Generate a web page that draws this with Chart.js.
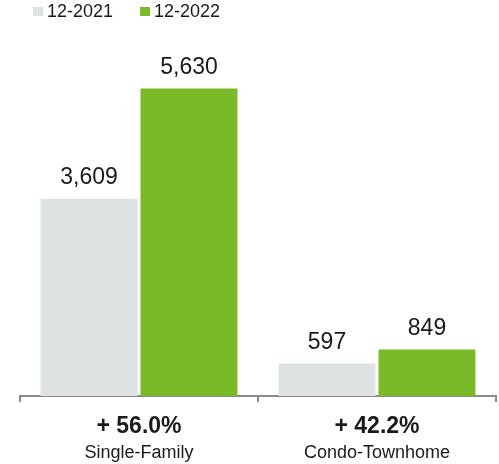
<!DOCTYPE html>
<html lang="en">
<head>
    <meta charset="UTF-8">
    <title>Closed Sales</title>
    <script src="https://cdn.jsdelivr.net/npm/chart.js"></script>
    <style>
        body {
            margin: 0;
            background: #ffffff;
        }
    </style>
</head>
<body>
    <canvas id="salesChart" width="499" height="464"></canvas>

<script>
    // data
    const categories = ["Single-Family", "Condo-Townhome"];
    const changeLabels = ["+ 56.0%", "+ 42.2%"];
    const periods = ["12-2021", "12-2022"];
    const sales2021 = [3609, 597];
    const sales2022 = [5630, 849];

    const FONT = "'Liberation Sans', Arial, Helvetica, sans-serif";
    const TEXT = '#1a1a1a';

    // small square legend in the top left corner
    const legendPlugin = {
        id: 'topLegend',
        afterDraw(chart) {
            const ctx = chart.ctx;
            ctx.save();
            ctx.font = '18px ' + FONT;
            ctx.textBaseline = 'alphabetic';
            ctx.textAlign = 'left';
            let x = 33;
            chart.data.datasets.forEach(function (ds) {
                ctx.fillStyle = ds.backgroundColor;
                ctx.fillRect(x, 7, 10, 9);
                ctx.fillStyle = TEXT;
                ctx.fillText(ds.label, x + 14, 16.5);
                x += 14 + ctx.measureText(ds.label).width + 27;
            });
            ctx.restore();
        }
    };

    // value labels above each bar, plus the two-line category labels under the axis
    const labelPlugin = {
        id: 'labels',
        afterDatasetsDraw(chart) {
            const ctx = chart.ctx;
            ctx.save();
            ctx.fillStyle = TEXT;
            ctx.textAlign = 'center';
            ctx.textBaseline = 'alphabetic';
            ctx.font = '23px ' + FONT;
            chart.data.datasets.forEach(function (ds, i) {
                chart.getDatasetMeta(i).data.forEach(function (bar, j) {
                    ctx.fillText(ds.data[j].toLocaleString('en-US'), bar.x, bar.y - 14.5);
                });
            });

            const x = chart.scales.x;
            const bottom = x.top;
            categories.forEach(function (name, j) {
                const cx = x.getPixelForValue(j);
                ctx.font = 'bold 23px ' + FONT;
                ctx.fillText(changeLabels[j], cx, bottom + 37);
                ctx.font = '18px ' + FONT;
                ctx.fillText(name, cx, bottom + 62);
            });
            ctx.restore();
        }
    };

    new Chart(document.getElementById('salesChart'), {
        type: 'bar',
        data: {
            labels: categories,
            datasets: [{
                label: periods[0],
                data: sales2021,
                backgroundColor: '#dde2e2',
                barPercentage: 0.97,
                categoryPercentage: 0.84
            }, {
                label: periods[1],
                data: sales2022,
                backgroundColor: '#7aba28',
                barPercentage: 0.97,
                categoryPercentage: 0.84
            }]
        },
        options: {
            responsive: false,
            animation: false,
            layout: {
                padding: { left: 20, right: 3, top: 30, bottom: 62 }
            },
            plugins: {
                legend: { display: false },
                tooltip: { enabled: false }
            },
            scales: {
                x: {
                    offset: true,
                    border: { display: true, color: '#8a8a8a', width: 2 },
                    grid: {
                        offset: true,
                        drawOnChartArea: false,
                        drawTicks: true,
                        tickLength: 6,
                        color: '#8a8a8a',
                        lineWidth: 2
                    },
                    ticks: { display: false }
                },
                y: {
                    display: false,
                    min: 0,
                    max: 6700
                }
            }
        },
        plugins: [labelPlugin, legendPlugin]
    });
</script>
</body>
</html>
